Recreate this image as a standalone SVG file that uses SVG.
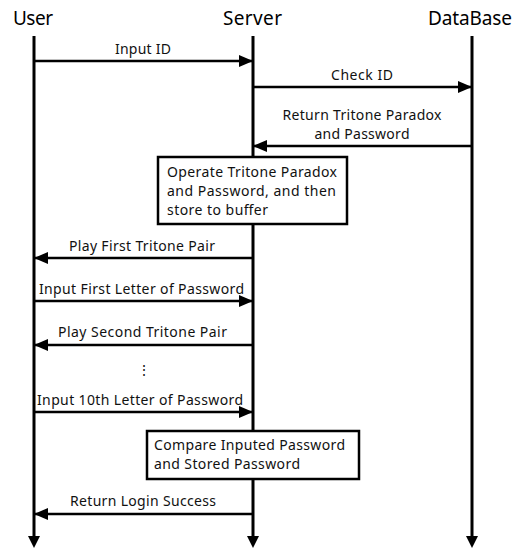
<svg xmlns="http://www.w3.org/2000/svg" width="524" height="548" viewBox="0 0 524 548">
<defs>
<marker id="ah" markerUnits="userSpaceOnUse" markerWidth="14" markerHeight="14" viewBox="0 0 14 14" refX="14" refY="7" orient="auto">
<path d="M0,1 L14,7 L0,13 Z" fill="#000"/>
</marker>
</defs>
<style>
.life{stroke:#000;stroke-width:3;fill:none}
.msg{stroke:#000;stroke-width:2.5;fill:none}
.head{font-family:"Noto Sans","Liberation Sans",sans-serif;font-size:19px;fill:#000;text-anchor:middle}
.lbl{font-family:"Noto Sans","Liberation Sans",sans-serif;font-size:14px;fill:#111;text-anchor:middle}
.box{fill:#fff;stroke:#000;stroke-width:2.5}
.btxt{font-family:"Noto Sans","Liberation Sans",sans-serif;font-size:14px;fill:#111}
</style>
<g id="user">
<text class="head" x="33" y="25" textLength="40" lengthAdjust="spacing">User</text>
<line class="life" x1="34" y1="36" x2="34" y2="538"/>
<path d="M28,536 L40,536 L34,548 Z" fill="#000"/>
</g>
<g id="server">
<text class="head" x="252.5" y="25" textLength="59" lengthAdjust="spacing">Server</text>
<line class="life" x1="253" y1="36" x2="253" y2="538"/>
<path d="M247,536 L259,536 L253,548 Z" fill="#000"/>
</g>
<g id="database">
<text class="head" x="470" y="25" textLength="84" lengthAdjust="spacing">DataBase</text>
<line class="life" x1="472" y1="36" x2="472" y2="538"/>
<path d="M466,536 L478,536 L472,548 Z" fill="#000"/>
</g>
<g id="connectors">
<line class="msg" x1="34" y1="61" x2="253" y2="61" marker-end="url(#ah)"/>
<text class="lbl" x="143" y="54" textLength="56" lengthAdjust="spacing">Input ID</text>
<line class="msg" x1="253" y1="87" x2="472" y2="87" marker-end="url(#ah)"/>
<text class="lbl" x="362" y="80" textLength="62" lengthAdjust="spacing">Check ID</text>
<line class="msg" x1="472" y1="146" x2="253" y2="146" marker-end="url(#ah)"/>
<text class="lbl" x="362" y="120" textLength="159" lengthAdjust="spacing">Return Tritone Paradox</text>
<text class="lbl" x="362" y="139" textLength="95" lengthAdjust="spacing">and Password</text>
<line class="msg" x1="253" y1="258" x2="34" y2="258" marker-end="url(#ah)"/>
<text class="lbl" x="142" y="251" textLength="146" lengthAdjust="spacing">Play First Tritone Pair</text>
<line class="msg" x1="34" y1="301" x2="253" y2="301" marker-end="url(#ah)"/>
<text class="lbl" x="141.5" y="294" textLength="205" lengthAdjust="spacing">Input First Letter of Password</text>
<line class="msg" x1="253" y1="345" x2="34" y2="345" marker-end="url(#ah)"/>
<text class="lbl" x="142.5" y="337" textLength="169" lengthAdjust="spacing">Play Second Tritone Pair</text>
<text class="lbl" x="144" y="375">⋮</text>
<line class="msg" x1="34" y1="412" x2="253" y2="412" marker-end="url(#ah)"/>
<text class="lbl" x="140" y="405" textLength="206" lengthAdjust="spacing">Input 10th Letter of Password</text>
<line class="msg" x1="253" y1="514" x2="34" y2="514" marker-end="url(#ah)"/>
<text class="lbl" x="143" y="506" textLength="146" lengthAdjust="spacing">Return Login Success</text>
</g>
<g id="operate">
<rect class="box" x="158" y="157" width="189" height="67"/>
<text class="btxt" x="167" y="177" textLength="170" lengthAdjust="spacing">Operate Tritone Paradox</text>
<text class="btxt" x="167" y="196" textLength="169" lengthAdjust="spacing">and Password, and then</text>
<text class="btxt" x="167" y="215" textLength="101" lengthAdjust="spacing">store to buffer</text>
</g>
<g id="compare">
<rect class="box" x="147" y="431" width="212" height="48"/>
<text class="btxt" x="154" y="450" textLength="191" lengthAdjust="spacing">Compare Inputed Password</text>
<text class="btxt" x="154" y="469" textLength="146" lengthAdjust="spacing">and Stored Password</text>
</g>
</svg>
